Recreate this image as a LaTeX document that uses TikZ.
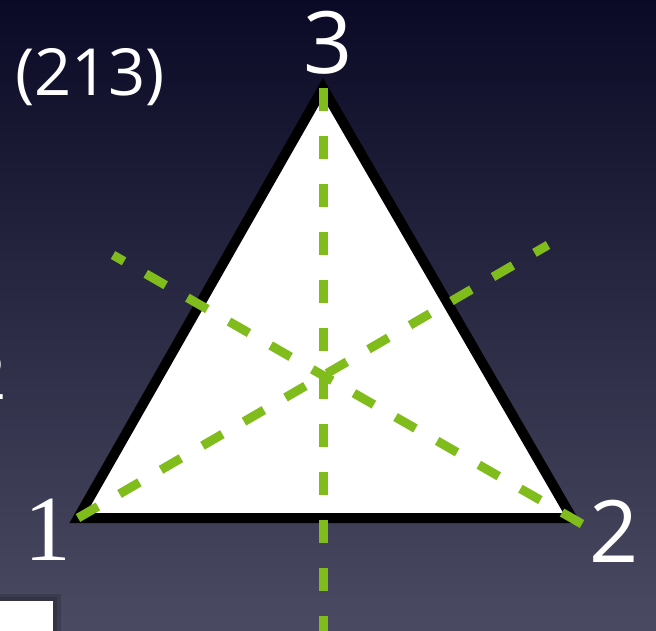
\documentclass[tikz,border=0pt]{standalone}
\usepackage{fontspec}
\setsansfont{Open Sans}
\newfontfamily\labelserif{Liberation Serif}
\definecolor{bgtop}{HTML}{0A0A26}
\definecolor{bgbottom}{HTML}{4A4A62}
\definecolor{axisgreen}{HTML}{80BC1C}
\tikzset{
    vertexlabel/.style={text=white, inner sep=0pt, font=\sffamily\fontsize{49}{49}\selectfont},
    permlabel/.style={text=white, inner sep=0pt, font=\sffamily\fontsize{37}{37}\selectfont},
    mirror/.style={axisgreen, line width=0.18cm, dash pattern=on 0.46cm off 0.5cm}
}
\begin{document}
\begin{tikzpicture}[x=0.02cm, y=-0.02cm]
    % Background
    \useasboundingbox (0,0) rectangle (656,630);
    \clip (0,0) rectangle (656,630);
    \shade[top color=bgtop, bottom color=bgbottom] (0,0) rectangle (656,630);

    % Vertices of the triangle
    \coordinate (v1) at (78,518);
    \coordinate (v2) at (572,518);
    \coordinate (v3) at (323,88);

    % Triangle
    \filldraw[fill=white, draw=black, line width=0.2cm, line join=miter] (v1) -- (v2) -- (v3) -- cycle;

    % Mirror axes
    \coordinate (m3) at (323,640);
    \coordinate (m1) at (548,245);
    \coordinate (s2) at (582,524);
    \coordinate (m2) at (113,255);
    \draw[mirror] (v3) -- (m3);
    \draw[mirror] (v1) -- (m1);
    \draw[mirror] (s2) -- (m2);

    % Vertex labels
    \node[vertexlabel] (l3) at (328,43) {3};
    \node[text=white, inner sep=0pt, font=\labelserif\fontsize{53}{53}\selectfont] (l1) at (48,530) {1};
    \node[vertexlabel] (l2) at (614,531) {2};

    % Permutation label
    \node[permlabel] (perm) at (90,77) {(213)};
    \node[permlabel] (cut) at (-12,376) {2};

    % Box at bottom left
    \fill[black, opacity=0.15] (-4,594) rectangle (61,634);
    \fill[black, opacity=0.15] (-2,597) rectangle (57,634);
    \fill[white] (0,601) rectangle (53,634);
\end{tikzpicture}
\end{document}
